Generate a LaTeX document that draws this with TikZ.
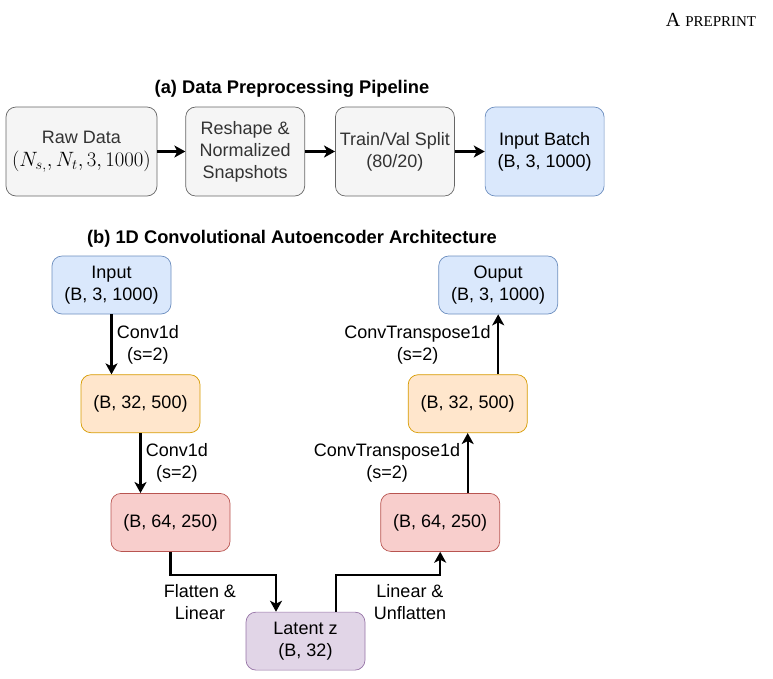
\documentclass[tikz,border=0pt]{standalone}
\usepackage{fontspec}
\setmainfont{Liberation Sans}
\newfontfamily\papersf{Liberation Serif}
\usepackage{xcolor}
\usetikzlibrary{arrows.meta, positioning, calc}

\definecolor{grayfill}{HTML}{F5F5F5}
\definecolor{graydraw}{HTML}{666666}
\definecolor{bluefill}{HTML}{DAE8FC}
\definecolor{bluedraw}{HTML}{6C8EBF}
\definecolor{orangefill}{HTML}{FFE6CC}
\definecolor{orangedraw}{HTML}{D79B00}
\definecolor{redfill}{HTML}{F8CECC}
\definecolor{reddraw}{HTML}{B85450}
\definecolor{purplefill}{HTML}{E1D5E7}
\definecolor{purpledraw}{HTML}{9673A6}

\begin{document}
\begin{tikzpicture}[
  x=1pt, y=-1pt,
  node distance=60pt,
  box/.style={draw, rounded corners=10pt, minimum width=119pt,
              minimum height=58pt, align=center, line width=0.7pt,
              font=\fontsize{18}{22}\selectfont},
  prep/.style={box, minimum height=89pt, fill=grayfill, draw=graydraw, text=black!80},
  inbox/.style={box, fill=bluefill, draw=bluedraw},
  midbox/.style={box, fill=orangefill, draw=orangedraw},
  deepbox/.style={box, fill=redfill, draw=reddraw},
  latbox/.style={box, fill=purplefill, draw=purpledraw},
  ttl/.style={font=\bfseries\fontsize{18.3}{22}\selectfont},
  lbl/.style={align=center, font=\fontsize{18}{22}\selectfont},
  arr/.style={-{Stealth[length=11pt, width=12pt, inset=3pt]}, line width=2.2pt}
]
\useasboundingbox (0,0) rectangle (773,678);

\node[font=\papersf] (header) at (711,20) {\fontsize{20}{20}\selectfont A \fontsize{15}{15}\selectfont PREPRINT};

% (a) preprocessing
\node[ttl] (titlea) at (292,89) {(a) Data Preprocessing Pipeline};
\node[prep, minimum width=151pt] (raw) at (81.5,151.5) {Raw Data\\[1pt]{\color{black}\fontsize{21}{22}\selectfont$(N_{s,}, N_{t}, 3, 1000)$}};
\node[prep, right=28pt of raw] (reshape) {Reshape \&\\Normalized\\Snapshots};
\node[prep, right=30pt of reshape] (split) {Train/Val Split\\(80/20)};
\node[prep, fill=bluefill, draw=bluedraw, text=black, right=30pt of split] (batch) {Input Batch\\(B, 3, 1000)};

\draw[arr] (raw) -- (reshape);
\draw[arr] (reshape) -- (split);
\draw[arr] (split) -- (batch);

% (b) autoencoder
\node[ttl] (titleb) at (292,239) {(b) 1D Convolutional Autoencoder Architecture};
\node[inbox] (input) at (111.5,285) {Input\\(B, 3, 1000)};
\node[midbox, below=60pt of input, xshift=29pt] (enc1) {(B, 32, 500)};
\node[deepbox, below=60pt of enc1, xshift=30pt] (enc2) {(B, 64, 250)};
\node[latbox, below=60pt of enc2, xshift=135pt] (latent) {Latent z\\(B, 32)};
\node[deepbox, right=150pt of enc2] (dec2) {(B, 64, 250)};
\node[midbox, above=60pt of dec2, xshift=27.5pt] (dec1) {(B, 32, 500)};
\node[inbox, above=60pt of dec1, xshift=30.5pt] (output) {Ouput\\(B, 3, 1000)};

\draw[arr] (input.south) -- node[lbl, right=1pt]{Conv1d\\(s=2)} (input.south |- enc1.north);
\draw[arr] (enc1.south) -- node[lbl, right=1pt]{Conv1d\\(s=2)} (enc1.south |- enc2.north);
\draw[arr] (enc2.south) -- ++(0,23) -| ([xshift=-29.5pt]latent.north);
\draw[arr] ([xshift=30.5pt]latent.north) -- ++(0,-37) -| (dec2.south);
\draw[arr] (dec1.south |- dec2.north) -- node[lbl, left=3pt]{ConvTranspose1d\\(s=2)} (dec1.south);
\draw[arr] (output.south |- dec1.north) -- node[lbl, left=3pt]{ConvTranspose1d\\(s=2)} (output.south);

\node[lbl] (flat) at (200,602) {Flatten \&\\Linear};
\node[lbl] (unflat) at (410,602) {Linear \&\\Unflatten};
\end{tikzpicture}
\end{document}
